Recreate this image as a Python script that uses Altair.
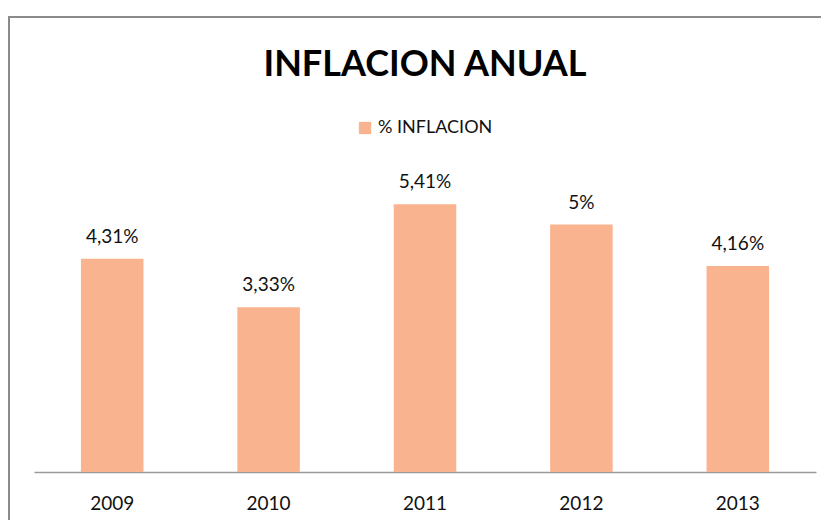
import altair as alt
import pandas as pd

years = ["2009", "2010", "2011", "2012", "2013"]
values = [4.31, 3.33, 5.41, 5.00, 4.16]
labels = ["4,31%", "3,33%", "5,41%", "5%", "4,16%"]
series_name = "% INFLACION"

df = pd.DataFrame({"year": years, "value": values, "label": labels,
                   "serie": [series_name] * len(years)})
one = pd.DataFrame({"k": [0]})

FONT = "Lato"
W, H = 782, 297

xenc = alt.X("year:N", sort=years,
             scale=alt.Scale(paddingInner=0.6, paddingOuter=0.3),
             axis=alt.Axis(title=None, labelAngle=0, labelFontSize=19, labelColor="#111111",
                           labelFont=FONT, tickSize=0, domainColor="#9a9a9a", domainWidth=1.5,
                           labelPadding=22, grid=False))
yenc = alt.Y("value:Q", scale=alt.Scale(domain=[0, 6], nice=False), axis=None)

bars = alt.Chart(df).mark_bar().encode(
    x=xenc, y=yenc,
    color=alt.Color("serie:N", scale=alt.Scale(range=["#F9B48F"]),
                    legend=alt.Legend(title=None, orient="none", legendX=322, legendY=-56,
                                      symbolType="square", symbolSize=150, symbolStrokeWidth=0,
                                      labelFontSize=18, labelFont=FONT, labelColor="#111111",
                                      symbolOpacity=1)),
)

text = alt.Chart(df).mark_text(dy=-22, fontSize=19, font=FONT, color="#111111").encode(
    x=alt.X("year:N", sort=years), y=yenc, text="label:N")

top_rule = alt.Chart(one).mark_rule(color="#8a8a8a", strokeWidth=2).encode(
    x=alt.value(-26), x2=alt.value(800), y=alt.value(-158))
left_rule = alt.Chart(one).mark_rule(color="#8a8a8a", strokeWidth=2).encode(
    x=alt.value(-25), y=alt.value(-158), y2=alt.value(360))

chart = alt.layer(bars, text, top_rule, left_rule).properties(
    width=W, height=H,
    title=alt.Title("INFLACION ANUAL", fontSize=36, fontWeight="bold", font=FONT,
                    anchor="middle", offset=-68, color="#000000"),
    autosize=alt.AutoSizeParams(type="none"),
    padding={"left": 26, "top": 167, "right": 5, "bottom": 48},
).configure(background="white").configure_view(stroke=None, strokeWidth=0)

chart.save("out.html", embed_options={"renderer": "svg", "actions": False})
